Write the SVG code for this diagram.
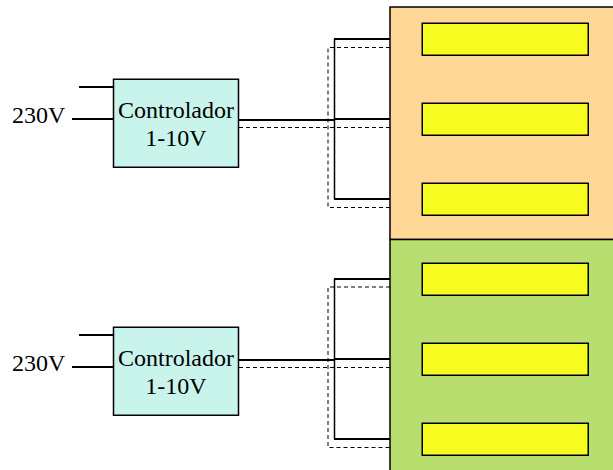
<svg xmlns="http://www.w3.org/2000/svg" width="613" height="470" viewBox="0 0 613 470">
<style>
text{font-family:"Liberation Serif","Times New Roman",serif;font-size:24px;fill:#000}
.c{text-anchor:middle}
.box{stroke:#000;stroke-width:1.5}
.ctl{fill:#c8f4ec}
.led{fill:#f6fc20}
.w{fill:none;stroke:#000;stroke-width:2}
.v{fill:none;stroke:#000;stroke-width:1.5}
.t{fill:none;stroke:#000;stroke-width:1;stroke-dasharray:4 3}
</style>
<rect width="613" height="470" fill="#fff"/>
<g id="connectors">
<path class="w" d="M79 87H113M72 119H113M239 120H334M334 119H390M334 39H390M334 199H390"/>
<path class="v" d="M334.500 39V199"/>
<path class="t" d="M390 47.500H328V207.500H390M239 127.500H390"/>
<path class="w" d="M79 335H113M72 367H113M239 360H334M334 359H390M334 279H390M334 439H390"/>
<path class="v" d="M334.500 279V439"/>
<path class="t" d="M390 287H328V447.500H390M239 367.500H390"/>
</g>
<g id="panel-orange"><rect class="box" x="390" y="7" width="230" height="232.500" fill="#fed797"/></g>
<g id="panel-green"><rect class="box" x="390" y="239.500" width="230" height="240" fill="#b8de70"/></g>
<g id="led-1"><rect class="box led" x="422.250" y="23.250" width="166" height="32"/></g>
<g id="led-2"><rect class="box led" x="422.250" y="103.250" width="166" height="32"/></g>
<g id="led-3"><rect class="box led" x="422.250" y="183.250" width="166" height="32"/></g>
<g id="led-4"><rect class="box led" x="422.250" y="263.250" width="166" height="32"/></g>
<g id="led-5"><rect class="box led" x="422.250" y="343.250" width="166" height="32"/></g>
<g id="led-6"><rect class="box led" x="422.250" y="423.250" width="166" height="32"/></g>
<g id="controller-1">
<rect class="box ctl" x="113.500" y="79.250" width="125" height="88"/>
<text class="c" x="176" y="118">Controlador</text>
<text class="c" x="176" y="146">1-10V</text>
</g>
<g id="controller-2">
<rect class="box ctl" x="113.500" y="327.250" width="125" height="88"/>
<text class="c" x="176" y="366">Controlador</text>
<text class="c" x="176" y="394">1-10V</text>
</g>
<g id="label-1"><text x="12" y="123">230V</text></g>
<g id="label-2"><text x="12" y="371">230V</text></g>
</svg>
